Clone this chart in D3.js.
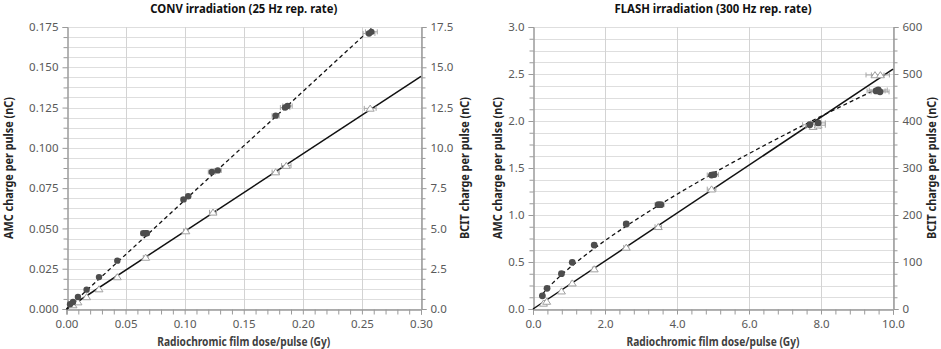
<!DOCTYPE html>
<html>
<head>
	<meta charset="utf-8" />
	<title>AMC vs BCIT charge per pulse</title>
	<script src="https://cdn.jsdelivr.net/npm/d3@7"></script>
	<style>
		body { margin: 0; background: #fff; }
		svg text { font-family: "Noto Sans", "Open Sans", sans-serif; }
	</style>
</head>
<body>

<svg id="chart" width="941" height="349"></svg>

<script type="text/javascript">
/* CONV irradiation (25 Hz) */
var convAmcDose  = [0.003, 0.0055, 0.0097, 0.017, 0.0275, 0.043, 0.065, 0.067, 0.068, 0.099, 0.103, 0.123, 0.128, 0.177, 0.185, 0.187, 0.256, 0.258];
var convAmc      = [0.003, 0.0043, 0.0075, 0.012, 0.0198, 0.030, 0.047, 0.047, 0.047, 0.068, 0.070, 0.085, 0.086, 0.120, 0.125, 0.126, 0.171, 0.172];
var convAmcErr   = [0, 0, 0, 0, 0, 0.001, 0.002, 0.002, 0.002, 0.002, 0.002, 0.003, 0.003, 0.003, 0.004, 0.004, 0.005, 0.005];
var convBcitDose = [0.0055, 0.0097, 0.017, 0.0275, 0.043, 0.067, 0.101, 0.124, 0.177, 0.186, 0.257];
var convBcit     = [0.25, 0.43, 0.75, 1.24, 1.99, 3.2, 4.84, 6.0, 8.5, 8.9, 12.45];
var convBcitErr  = [0, 0, 0, 0, 0.001, 0.002, 0.002, 0.003, 0.003, 0.004, 0.005];
var convXTicks   = [0, 0.05, 0.10, 0.15, 0.20, 0.25, 0.30];
var convYTicks   = [0, 0.025, 0.05, 0.075, 0.10, 0.125, 0.15, 0.175];
var convY2Ticks  = [0, 2.5, 5.0, 7.5, 10.0, 12.5, 15.0, 17.5];

/* FLASH irradiation (300 Hz) */
var flashAmcDose  = [0.26, 0.39, 0.79, 1.09, 1.70, 2.59, 3.48, 3.55, 4.96, 5.03, 7.69, 7.92, 9.53, 9.59, 9.64];
var flashAmc      = [0.14, 0.22, 0.376, 0.497, 0.68, 0.904, 1.11, 1.11, 1.425, 1.43, 1.96, 1.98, 2.32, 2.33, 2.31];
var flashAmcErr   = [0, 0, 0, 0.03, 0.05, 0.07, 0.09, 0.09, 0.12, 0.12, 0.2, 0.2, 0.25, 0.25, 0.25];
var flashBcitDose = [0.29, 0.38, 0.79, 1.09, 1.70, 2.59, 3.48, 4.96, 7.78, 7.92, 9.5, 9.65];
var flashBcit     = [12, 16, 38, 55, 85, 131, 175, 255, 388, 391, 498, 498];
var flashBcitErr  = [0, 0, 0, 0.03, 0.05, 0.07, 0.09, 0.12, 0.2, 0.2, 0.25, 0.25];
var flashXTicks   = [0, 2, 4, 6, 8, 10];
var flashYTicks   = [0, 0.5, 1.0, 1.5, 2.0, 2.5, 3.0];
var flashY2Ticks  = [0, 100, 200, 300, 400, 500, 600];

var svg = d3.select("#chart");

/* helpers */
function minorValues(ticks, n) {
	var out = [];
	for (var i = 0; i < ticks.length - 1; i++) {
		for (var k = 1; k < n; k++) {
			out.push(ticks[i] + (ticks[i+1] - ticks[i]) * k / n);
		}
	}
	return out;
}

function zip(xs, ys, es) {
	return xs.map(function(x, i) { return {x: x, y: ys[i], e: es ? es[i] : 0}; });
}

// least squares, line forced through the origin
function originSlope(xs, ys) {
	var sxy = d3.sum(xs, function(x, i) { return x * ys[i]; }),
	    sxx = d3.sum(xs, function(x) { return x * x; });
	return sxy / sxx;
}

// y = a * x^b, fitted in log space
function powerFit(xs, ys) {
	var lx = xs.map(Math.log), ly = ys.map(Math.log);
	var mx = d3.mean(lx), my = d3.mean(ly);
	var num = d3.sum(lx, function(v, i) { return (v - mx) * (ly[i] - my); }),
	    den = d3.sum(lx, function(v) { return (v - mx) * (v - mx); });
	var b = num / den;
	return {a: Math.exp(my - b * mx), b: b};
}

var triangle = "M0,-3.3L4,2.8L-4,2.8Z";

function drawPanel(p) {
	var g = svg.append("g");

	var x  = d3.scaleLinear().domain(d3.extent(p.xTicks)).range([p.left, p.right]);
	var y  = d3.scaleLinear().domain(d3.extent(p.yTicks)).range([p.bottom, p.top]);
	var y2 = d3.scaleLinear().domain(d3.extent(p.y2Ticks)).range([p.bottom, p.top]);

	// horizontal grid: major + 4 minor steps
	var hGrid = p.yTicks.concat(minorValues(p.yTicks, 4));
	g.append("g").selectAll("line")
		.data(hGrid).enter().append("line")
			.attr("x1", p.left).attr("x2", p.right)
			.attr("y1", function(d) { return Math.round(y(d)) + 0.5; })
			.attr("y2", function(d) { return Math.round(y(d)) + 0.5; })
			.attr("stroke", "#dedede");

	// vertical grid at major ticks only
	g.append("g").selectAll("line")
		.data(p.xTicks.slice(1)).enter().append("line")
			.attr("y1", p.top).attr("y2", p.bottom)
			.attr("x1", function(d) { return Math.round(x(d)) + 0.5; })
			.attr("x2", function(d) { return Math.round(x(d)) + 0.5; })
			.attr("stroke", "#d3d3d3");

	// axes
	var axisColor = "#9a9a9a", labelColor = "#595959";

	function styleAxis(sel) {
		sel.select(".domain").attr("stroke", axisColor);
		sel.selectAll(".tick line").attr("stroke", axisColor);
		sel.selectAll(".tick text").attr("fill", labelColor).style("font-size", "11.5px");
		sel.attr("font-family", null);
	}

	var yMinor = minorValues(p.yTicks, 4),
	    xMinor = minorValues(p.xTicks, 5);

	g.append("g")
		.attr("transform", "translate(" + (Math.round(p.left) + 0.5) + ",0)")
		.call(d3.axisLeft(y).tickValues(yMinor).tickSize(4).tickFormat(""))
		.call(styleAxis);
	g.append("g")
		.attr("transform", "translate(" + (Math.round(p.left) + 0.5) + ",0)")
		.call(d3.axisLeft(y).tickValues(p.yTicks).tickSize(5).tickPadding(4).tickFormat(d3.format(p.yFormat)))
		.call(styleAxis);

	g.append("g")
		.attr("transform", "translate(" + (Math.round(p.right) + 0.5) + ",0)")
		.call(d3.axisRight(y2).tickValues(minorValues(p.y2Ticks, 4)).tickSize(4).tickFormat(""))
		.call(styleAxis);
	g.append("g")
		.attr("transform", "translate(" + (Math.round(p.right) + 0.5) + ",0)")
		.call(d3.axisRight(y2).tickValues(p.y2Ticks).tickSize(5).tickPadding(4).tickFormat(d3.format(p.y2Format)))
		.call(styleAxis);

	g.append("g")
		.attr("transform", "translate(0," + (Math.round(p.bottom) + 0.5) + ")")
		.call(d3.axisBottom(x).tickValues(xMinor).tickSize(5).tickFormat(""))
		.call(styleAxis);
	g.append("g")
		.attr("transform", "translate(0," + (Math.round(p.bottom) + 0.5) + ")")
		.call(d3.axisBottom(x).tickValues(p.xTicks).tickSize(5).tickPadding(5).tickFormat(d3.format(p.xFormat)))
		.call(styleAxis);

	// titles
	var cx = (p.left + p.right) / 2, cy = (p.top + p.bottom) / 2;
	g.append("text")
		.attr("x", cx).attr("y", 13)
		.attr("text-anchor", "middle")
		.attr("font-weight", "bold").attr("font-size", 12).attr("fill", "#111")
		.attr("textLength", p.titleLen).attr("lengthAdjust", "spacingAndGlyphs")
		.text(p.title);
	g.append("text")
		.attr("x", cx).attr("y", 346)
		.attr("text-anchor", "middle")
		.attr("font-weight", "bold").attr("font-size", 12).attr("fill", "#404040")
		.attr("textLength", 173).attr("lengthAdjust", "spacingAndGlyphs")
		.text("Radiochromic film dose/pulse (Gy)");
	g.append("text")
		.attr("transform", "translate(" + p.yTitleX + "," + cy + ") rotate(-90)")
		.attr("text-anchor", "middle").attr("dy", "0.35em")
		.attr("font-weight", "bold").attr("font-size", 11.5).attr("fill", "#262626")
		.attr("textLength", 142).attr("lengthAdjust", "spacingAndGlyphs")
		.text("AMC charge per pulse (nC)");
	g.append("text")
		.attr("transform", "translate(" + p.y2TitleX + "," + cy + ") rotate(-90)")
		.attr("text-anchor", "middle").attr("dy", "0.35em")
		.attr("font-weight", "bold").attr("font-size", 11.5).attr("fill", "#262626")
		.attr("textLength", 142).attr("lengthAdjust", "spacingAndGlyphs")
		.text("BCIT charge per pulse (nC)");

	// trend lines
	g.append("path")
		.datum(p.amcFit)
		.attr("d", d3.line().x(function(d) { return x(d[0]); }).y(function(d) { return y(d[1]); }))
		.attr("fill", "none").attr("stroke", "#111")
		.attr("stroke-width", 1.3).attr("stroke-dasharray", "4,3");

	g.append("path")
		.datum(p.bcitFit)
		.attr("d", d3.line().x(function(d) { return x(d[0]); }).y(function(d) { return y2(d[1]); }))
		.attr("fill", "none").attr("stroke", "#111")
		.attr("stroke-width", 1.5);

	// error bars (dose)
	function errBars(data, ys) {
		var eb = g.append("g").attr("stroke", "#a6a6a6").attr("stroke-width", 1)
			.selectAll("g").data(data.filter(function(d) { return d.e > 0; })).enter().append("g");
		eb.append("line")
			.attr("x1", function(d) { return x(d.x - d.e); })
			.attr("x2", function(d) { return x(d.x + d.e); })
			.attr("y1", function(d) { return ys(d.y); })
			.attr("y2", function(d) { return ys(d.y); });
		eb.append("line")
			.attr("x1", function(d) { return x(d.x - d.e); })
			.attr("x2", function(d) { return x(d.x - d.e); })
			.attr("y1", function(d) { return ys(d.y) - 2.5; })
			.attr("y2", function(d) { return ys(d.y) + 2.5; });
		eb.append("line")
			.attr("x1", function(d) { return x(d.x + d.e); })
			.attr("x2", function(d) { return x(d.x + d.e); })
			.attr("y1", function(d) { return ys(d.y) - 2.5; })
			.attr("y2", function(d) { return ys(d.y) + 2.5; });
	}
	errBars(p.bcit, y2);
	errBars(p.amc, y);

	// markers
	g.append("g").selectAll("path")
		.data(p.bcit).enter().append("path")
			.attr("d", triangle)
			.attr("transform", function(d) { return "translate(" + x(d.x) + "," + y2(d.y) + ")"; })
			.attr("fill", "#fff").attr("stroke", "#a0a0a0").attr("stroke-width", 1);

	g.append("g").selectAll("circle")
		.data(p.amc).enter().append("circle")
			.attr("cx", function(d) { return x(d.x); })
			.attr("cy", function(d) { return y(d.y); })
			.attr("r", p.r)
			.attr("fill", "#4d4d4d");
}

/* CONV panel */
(function() {
	var ka = originSlope(convAmcDose, convAmc),
	    kb = originSlope(convBcitDose, convBcit);
	var xMax = d3.max(convXTicks);
	drawPanel({
		left: 66.5, right: 421, top: 27, bottom: 309,
		xTicks: convXTicks, yTicks: convYTicks, y2Ticks: convY2Ticks,
		xFormat: ".2f", yFormat: ".3f", y2Format: ".1f",
		title: "CONV irradiation (25 Hz rep. rate)", titleLen: 187,
		yTitleX: 9, y2TitleX: 465,
		amc: zip(convAmcDose, convAmc, convAmcErr),
		bcit: zip(convBcitDose, convBcit, convBcitErr),
		amcFit: [[0, 0], [d3.max(convAmcDose), ka * d3.max(convAmcDose)]],
		bcitFit: [[0, 0], [xMax, kb * xMax]],
		r: 3.2
	});
})();

/* FLASH panel */
(function() {
	var pf = powerFit(flashAmcDose, flashAmc),
	    kb = originSlope(flashBcitDose, flashBcit);
	var x0 = d3.min(flashAmcDose), x1 = d3.max(flashAmcDose), xMax = d3.max(flashXTicks);
	var curve = d3.range(0, 61).map(function(i) {
		var xv = x0 + (x1 - x0) * i / 60;
		return [xv, pf.a * Math.pow(xv, pf.b)];
	});
	drawPanel({
		left: 533, right: 893, top: 27, bottom: 309,
		xTicks: flashXTicks, yTicks: flashYTicks, y2Ticks: flashY2Ticks,
		xFormat: ".1f", yFormat: ".1f", y2Format: "d",
		title: "FLASH irradiation (300 Hz rep. rate)", titleLen: 197,
		yTitleX: 498, y2TitleX: 932,
		amc: zip(flashAmcDose, flashAmc, flashAmcErr),
		bcit: zip(flashBcitDose, flashBcit, flashBcitErr),
		amcFit: curve,
		bcitFit: [[0, 0], [xMax, kb * xMax]],
		r: 3.4
	});
})();
</script>
</body>
</html>
